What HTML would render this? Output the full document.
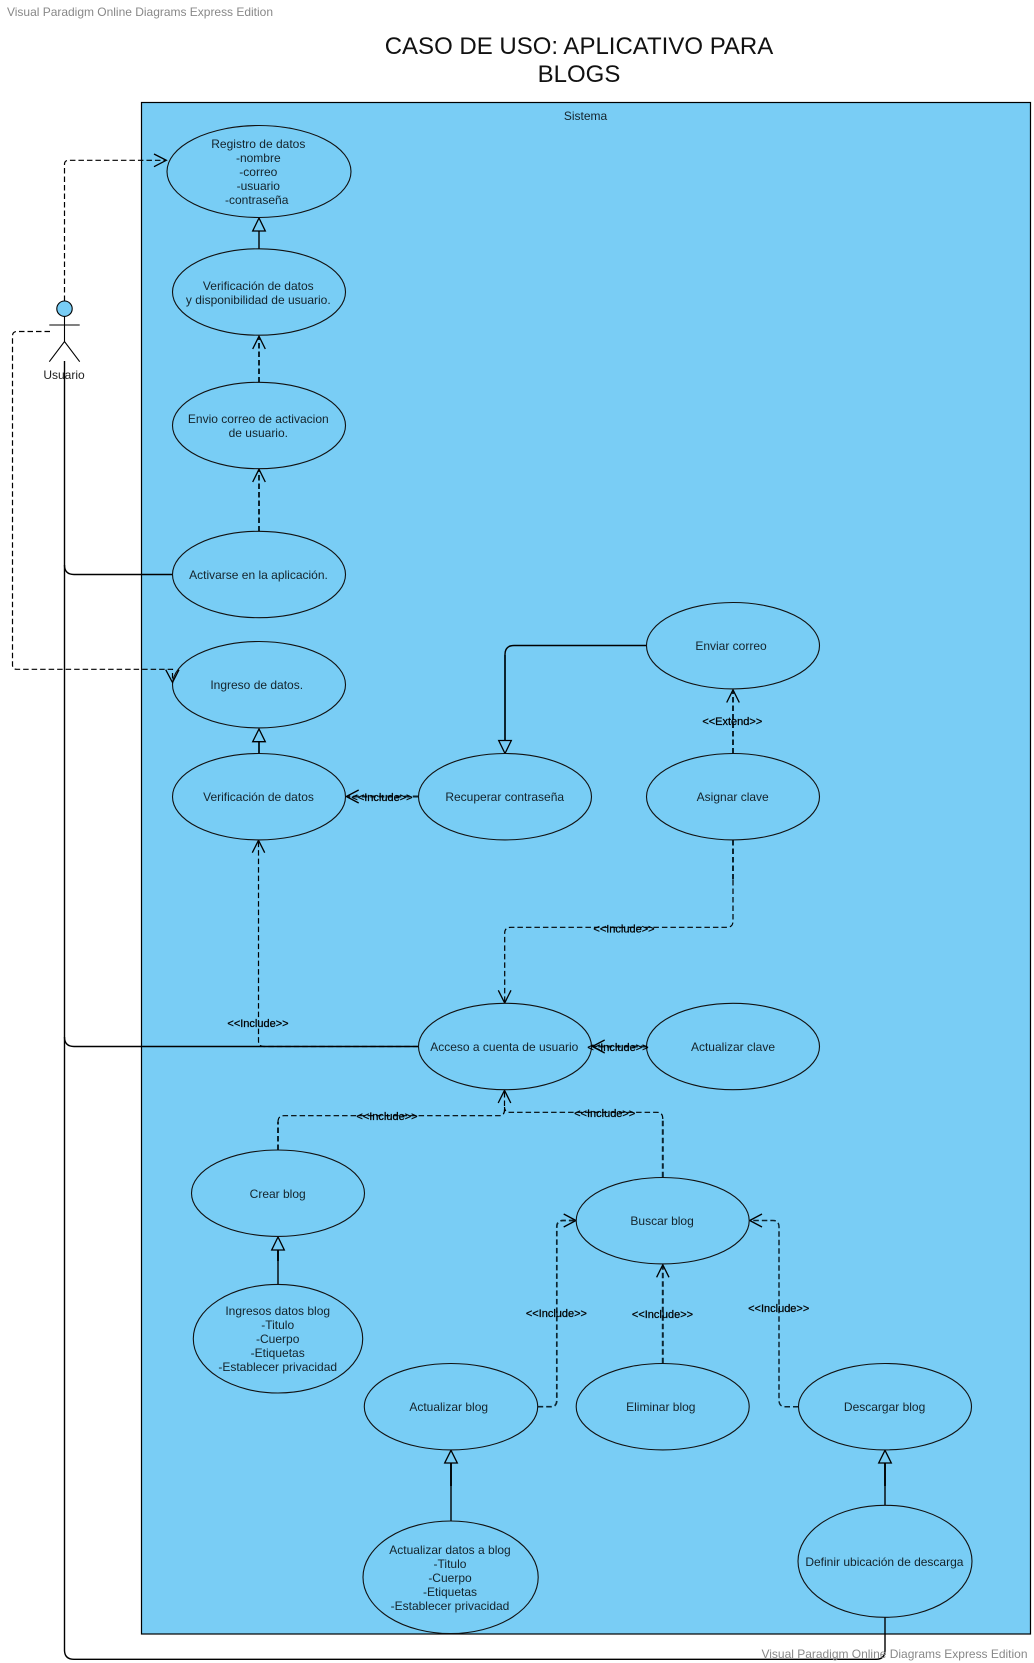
<!DOCTYPE html>
<html>
<head>
<meta charset="utf-8">
<style>
html,body{margin:0;padding:0;background:#fff;width:1034px;height:1663px;overflow:hidden}
svg{display:block;position:absolute;left:0;top:0}
text{font-family:"Liberation Sans",Arial,sans-serif}
.t{font-size:12px;fill:#14232b;text-anchor:middle}
.i{font-size:11px;fill:#000;text-anchor:middle;stroke:#000;stroke-width:.25}
.w{font-size:12px;fill:#888}
.h{font-size:24px;fill:#111;text-anchor:middle}
.e{fill:#78cdf5;stroke:#111;stroke-width:1.1}
.s{fill:none;stroke:#000;stroke-width:1.4}
.st{fill:none;stroke:#0d2530;stroke-width:2}
.d{fill:none;stroke:#000;stroke-width:1.2;stroke-dasharray:5.5 3}
.dt{fill:none;stroke:#0d2530;stroke-width:2;stroke-dasharray:5.5 3}
.a{fill:none;stroke:#000;stroke-width:1.3}
.g{fill:#78cdf5;stroke:#000;stroke-width:1.3}
</style>
</head>
<body>
<svg width="1034" height="1663" viewBox="0 0 1034 1663" xmlns="http://www.w3.org/2000/svg">
<text class="w" x="7" y="16" textLength="266">Visual Paradigm Online Diagrams Express Edition</text>
<text class="h" x="579" y="54">CASO DE USO: APLICATIVO PARA</text>
<text class="h" x="579" y="82">BLOGS</text>

<rect x="141.5" y="102.5" width="889" height="1531.5" fill="#79cdf5" stroke="#000" stroke-width="1.2"/>
<text class="t" x="585.5" y="120">Sistema</text>

<!-- solid actor lines -->
<path class="s" d="M64.5 361V1650Q64.5 1659.3 74 1659.3H876Q885 1659.3 885 1650V1617"/>
<path class="s" d="M64.5 565Q64.5 574.5 74 574.5H172.5"/>
<path class="s" d="M64.5 1037Q64.5 1046.5 74 1046.5H418.5"/>

<!-- dashed actor lines -->
<path class="d" d="M64.5 301V164.3Q64.5 160.3 69 160.3H165"/>
<path class="a" d="M154 154L166.3 160.3L154 166.7"/>
<path class="d" d="M50 331.5H17Q12.5 331.5 12.5 336V665Q12.5 669.3 17 669.3H172.5V680"/>

<!-- generalizations -->
<path class="s" d="M259 231V248.7"/>
<path class="g" d="M259 218L252.7 231H265.3Z"/>
<path class="st" d="M259 741.7V753.5"/>
<path class="g" d="M259 729L252.7 741.7H265.3Z"/>
<path class="st" d="M278 1250V1261"/>
<path class="s" d="M278 1250V1284.3"/>
<path class="g" d="M278 1237L271.7 1250H284.3Z"/>
<path class="st" d="M451 1463V1486"/>
<path class="s" d="M451 1463V1521"/>
<path class="g" d="M451 1450.3L444.7 1463H457.3Z"/>
<path class="st" d="M885 1463V1486"/>
<path class="s" d="M885 1463V1505.3"/>
<path class="g" d="M885 1450.3L878.7 1463H891.3Z"/>
<path class="s" d="M646.3 645.5H514Q505 645.5 505 654.5V740"/>
<path class="st" d="M505 655V740"/>
<path class="g" d="M505 753.5L498.7 740.5H511.3Z"/>

<!-- includes -->
<path class="dt" d="M259 382.5V337"/>
<path class="a" d="M252.7 349L259 336.2L265.3 349"/>
<path class="dt" d="M259 531.5V470"/>
<path class="a" d="M252.7 482L259 469.2L265.3 482"/>

<path class="dt" d="M418.3 796.5H347"/>
<path class="a" d="M358.7 790L346.3 796.5L358.7 803"/>

<path class="dt" d="M733 753.5V691"/>
<path class="a" d="M726.7 702.5L733 689.8L739.3 702.5"/>

<path class="dt" d="M733 840V880"/>
<path class="d" d="M733 880V921Q733 927.3 727 927.3H511Q504.7 927.3 504.7 933V1002"/>
<path class="a" d="M498.3 990.3L504.7 1003L511 990.3"/>

<path class="d" d="M418.3 1046.5H264Q258.5 1046.5 258.5 1041V842"/>
<path class="a" d="M252.3 852.7L258.5 840.3L264.7 852.7"/>

<path class="dt" d="M646.3 1046.5H593"/>
<path class="a" d="M604.7 1040L592.3 1046.5L604.7 1053"/>

<path class="dt" d="M278 1150V1122"/>
<path class="d" d="M278 1122Q278 1115.7 284 1115.7H499Q504.5 1115.7 504.5 1110V1091"/>
<path class="a" d="M498.2 1103L504.5 1090.3L510.8 1103"/>

<path class="dt" d="M662.8 1177.3V1119"/>
<path class="d" d="M662.8 1119Q662.8 1112.3 657 1112.3H510Q504.5 1112.3 504.5 1107"/>

<path class="dt" d="M537.7 1406.7H551Q556.8 1406.7 556.8 1400V1227Q556.8 1220.5 563 1220.5H575" style="stroke-width:1.7"/>
<path class="a" d="M563.7 1214L576 1220.5L563.7 1227"/>

<path class="dt" d="M662.8 1363.3V1266"/>
<path class="a" d="M656.6 1277.3L662.8 1264.8L669 1277.3"/>

<path class="dt" d="M798.5 1406.7H785Q779 1406.7 779 1400V1227Q779 1220.5 773 1220.5H751" style="stroke-width:1.5"/>
<path class="a" d="M762 1214L749.7 1220.5L762 1227"/>

<!-- ellipses -->
<ellipse class="e" cx="259" cy="171.5" rx="92" ry="46"/>
<ellipse class="e" cx="259" cy="292" rx="86.5" ry="43.2"/>
<ellipse class="e" cx="259" cy="425.5" rx="86.5" ry="43.2"/>
<ellipse class="e" cx="259" cy="574.5" rx="86.5" ry="43.2"/>
<ellipse class="e" cx="259" cy="684.7" rx="86.5" ry="43.2"/>
<ellipse class="e" cx="259" cy="796.7" rx="86.5" ry="43.2"/>
<ellipse class="e" cx="505" cy="796.7" rx="86.5" ry="43.2"/>
<ellipse class="e" cx="733" cy="796.7" rx="86.5" ry="43.2"/>
<ellipse class="e" cx="733" cy="645.7" rx="86.5" ry="43.2"/>
<ellipse class="e" cx="505" cy="1046.5" rx="86.5" ry="43.2"/>
<ellipse class="e" cx="733" cy="1046.5" rx="86.5" ry="43.2"/>
<ellipse class="e" cx="278" cy="1193.2" rx="86.5" ry="43.2"/>
<ellipse class="e" cx="278" cy="1338.7" rx="84.7" ry="54.3"/>
<ellipse class="e" cx="662.7" cy="1220.7" rx="86.5" ry="43.2"/>
<ellipse class="e" cx="662.7" cy="1406.7" rx="86.5" ry="43.2"/>
<ellipse class="e" cx="885" cy="1406.7" rx="86.5" ry="43.2"/>
<ellipse class="e" cx="451" cy="1406.7" rx="86.7" ry="43.2"/>
<ellipse class="e" cx="450.6" cy="1577.3" rx="87.6" ry="56.3"/>
<ellipse class="e" cx="885" cy="1561.3" rx="87" ry="56"/>

<!-- arrowhead drawn above the ellipse -->
<path class="a" d="M165.7 669.7L172.5 682.5L179 669.7"/>

<!-- actor -->
<circle cx="64.5" cy="308.7" r="7.7" fill="#78cdf5" stroke="#000" stroke-width="1.1"/>
<path d="M64.5 316.5V341.5M49.3 325H79.7M49.3 361.7L64.5 341.5L79.7 361.7" fill="none" stroke="#000" stroke-width="1.1"/>
<text class="t" x="64" y="379" style="fill:#222">Usuario</text>

<!-- ellipse texts -->
<text class="t" x="258.3" y="148">Registro de datos</text>
<text class="t" x="258.3" y="162">-nombre</text>
<text class="t" x="258.3" y="176">-correo</text>
<text class="t" x="258.3" y="190">-usuario</text>
<text class="t" x="256.7" y="204">-contraseña</text>
<text class="t" x="258.3" y="290">Verificación de datos</text>
<text class="t" x="258.3" y="304">y disponibilidad de usuario.</text>
<text class="t" x="258.3" y="423">Envio correo de activacion</text>
<text class="t" x="258.3" y="437">de usuario.</text>
<text class="t" x="258.5" y="579">Activarse en la aplicación.</text>
<text class="t" x="256.7" y="689">Ingreso de datos.</text>
<text class="t" x="258.5" y="801">Verificación de datos</text>
<text class="t" x="504.7" y="801">Recuperar contraseña</text>
<text class="t" x="732.7" y="801">Asignar clave</text>
<text class="t" x="731" y="650">Enviar correo</text>
<text class="t" x="504.3" y="1051">Acceso a cuenta de usuario</text>
<text class="t" x="733" y="1051">Actualizar clave</text>
<text class="t" x="277.7" y="1198">Crear blog</text>
<text class="t" x="277.7" y="1315">Ingresos datos blog</text>
<text class="t" x="277.7" y="1329">-Titulo</text>
<text class="t" x="277.7" y="1343">-Cuerpo</text>
<text class="t" x="277.7" y="1357">-Etiquetas</text>
<text class="t" x="277.7" y="1371">-Establecer privacidad</text>
<text class="t" x="662.1" y="1225">Buscar blog</text>
<text class="t" x="660.8" y="1411">Eliminar blog</text>
<text class="t" x="884.6" y="1411">Descargar blog</text>
<text class="t" x="448.7" y="1411">Actualizar blog</text>
<text class="t" x="450" y="1554">Actualizar datos a blog</text>
<text class="t" x="450" y="1568">-Titulo</text>
<text class="t" x="450" y="1582">-Cuerpo</text>
<text class="t" x="450" y="1596">-Etiquetas</text>
<text class="t" x="450" y="1610">-Establecer privacidad</text>
<text class="t" x="884.4" y="1566">Definir ubicación de descarga</text>

<!-- connector labels -->
<text class="i" x="382" y="801">&lt;&lt;Include&gt;&gt;</text>
<text class="i" x="732.3" y="725">&lt;&lt;Extend&gt;&gt;</text>
<text class="i" x="624" y="932.5">&lt;&lt;Include&gt;&gt;</text>
<text class="i" x="258" y="1027">&lt;&lt;Include&gt;&gt;</text>
<text class="i" x="618" y="1051">&lt;&lt;Include&gt;&gt;</text>
<text class="i" x="387" y="1120">&lt;&lt;Include&gt;&gt;</text>
<text class="i" x="604.7" y="1117">&lt;&lt;Include&gt;&gt;</text>
<text class="i" x="556.4" y="1317">&lt;&lt;Include&gt;&gt;</text>
<text class="i" x="662.5" y="1318">&lt;&lt;Include&gt;&gt;</text>
<text class="i" x="778.7" y="1312">&lt;&lt;Include&gt;&gt;</text>

<text class="w" x="761.5" y="1658" textLength="266">Visual Paradigm Online Diagrams Express Edition</text>
</svg>
</body>
</html>
